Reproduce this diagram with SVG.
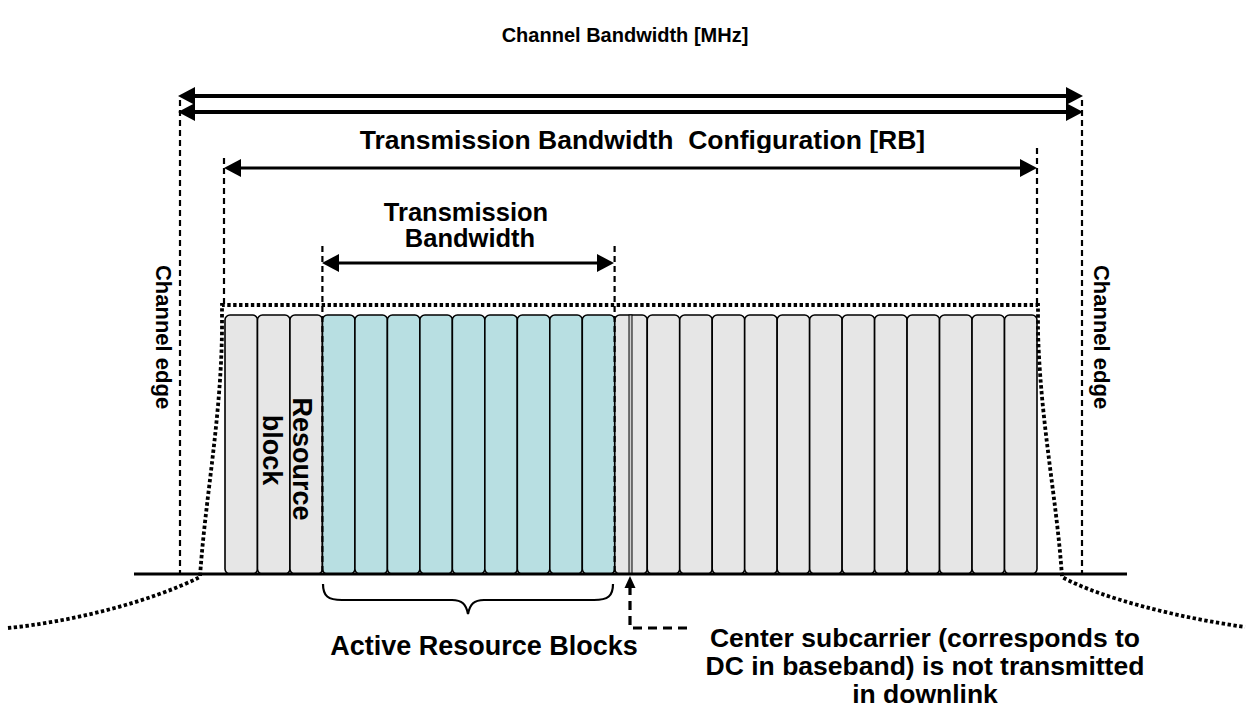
<svg xmlns="http://www.w3.org/2000/svg" width="1248" height="710" viewBox="0 0 1248 710">
<style>
  .t { font-family: "Liberation Sans", Arial, sans-serif; font-weight: bold; fill: #000; }
  .rb { fill: #e6e6e6; stroke: #000; stroke-width: 1.6; }
  .rb.act { fill: #b8dfe2; }
  .dash { fill: none; stroke: #000; stroke-width: 2.2; stroke-dasharray: 6 4; }
  .dots { fill: none; stroke: #000; stroke-width: 3.8; stroke-dasharray: 3.4 2.5; }
  .arr { fill: none; stroke: #000; }
</style>
<defs>
  <marker id="ah" viewBox="0 -9 17 18" refX="0" refY="0" markerWidth="17" markerHeight="18" markerUnits="userSpaceOnUse" orient="auto-start-reverse">
    <path d="M0,-9 L17,0 L0,9 Z" fill="#000"/>
  </marker>
  <clipPath id="tbcClip"><rect x="0" y="0" width="1248" height="153"/></clipPath>
</defs>
<rect width="1248" height="710" fill="#fff"/>

<g id="title"><text class="t" x="625" y="42" font-size="20" text-anchor="middle">Channel Bandwidth [MHz]</text></g>

<g id="resource-blocks">
  <rect id="rb0" class="rb" x="225" y="315" width="32.48" height="259" rx="5"/>
  <rect id="rb1" class="rb" x="257.48" y="315" width="32.48" height="259" rx="5"/>
  <rect id="rb2" class="rb" x="289.96" y="315" width="32.48" height="259" rx="5"/>
  <rect id="rb3" class="rb act" x="322.44" y="315" width="32.48" height="259" rx="5"/>
  <rect id="rb4" class="rb act" x="354.92" y="315" width="32.48" height="259" rx="5"/>
  <rect id="rb5" class="rb act" x="387.40" y="315" width="32.48" height="259" rx="5"/>
  <rect id="rb6" class="rb act" x="419.88" y="315" width="32.48" height="259" rx="5"/>
  <rect id="rb7" class="rb act" x="452.36" y="315" width="32.48" height="259" rx="5"/>
  <rect id="rb8" class="rb act" x="484.84" y="315" width="32.48" height="259" rx="5"/>
  <rect id="rb9" class="rb act" x="517.32" y="315" width="32.48" height="259" rx="5"/>
  <rect id="rb10" class="rb act" x="549.80" y="315" width="32.48" height="259" rx="5"/>
  <rect id="rb11" class="rb act" x="582.28" y="315" width="32.48" height="259" rx="5"/>
  <rect id="rb12" class="rb" x="614.76" y="315" width="32.48" height="259" rx="5"/>
  <rect id="rb13" class="rb" x="647.24" y="315" width="32.48" height="259" rx="5"/>
  <rect id="rb14" class="rb" x="679.72" y="315" width="32.48" height="259" rx="5"/>
  <rect id="rb15" class="rb" x="712.20" y="315" width="32.48" height="259" rx="5"/>
  <rect id="rb16" class="rb" x="744.68" y="315" width="32.48" height="259" rx="5"/>
  <rect id="rb17" class="rb" x="777.16" y="315" width="32.48" height="259" rx="5"/>
  <rect id="rb18" class="rb" x="809.64" y="315" width="32.48" height="259" rx="5"/>
  <rect id="rb19" class="rb" x="842.12" y="315" width="32.48" height="259" rx="5"/>
  <rect id="rb20" class="rb" x="874.60" y="315" width="32.48" height="259" rx="5"/>
  <rect id="rb21" class="rb" x="907.08" y="315" width="32.48" height="259" rx="5"/>
  <rect id="rb22" class="rb" x="939.56" y="315" width="32.48" height="259" rx="5"/>
  <rect id="rb23" class="rb" x="972.04" y="315" width="32.48" height="259" rx="5"/>
  <rect id="rb24" class="rb" x="1004.52" y="315" width="32.48" height="259" rx="5"/>
</g>

<g id="dc-subcarrier">
  <rect x="629" y="315" width="3" height="259" fill="#cfcfcf" stroke="#000" stroke-width="1"/>
</g>

<g id="spectrum-mask">
  <path class="dots" d="M8,628 C70,622 150,602 200,577 C205,500 221,420 222,330 L222,305 L1038,305 L1038,330 C1040,420 1057,500 1062,577 C1100,598 1180,618 1245,627"/>
</g>

<g id="connectors">
  <line x1="134" y1="574" x2="1127" y2="574" stroke="#000" stroke-width="3"/>
  <line class="dash" x1="180" y1="100" x2="180" y2="574"/>
  <line class="dash" x1="1082" y1="100" x2="1082" y2="574"/>
  <line class="dash" x1="224" y1="158" x2="224" y2="305"/>
  <line class="dash" x1="1037" y1="148" x2="1037" y2="305"/>
  <line class="dash" x1="322.4" y1="246" x2="322.4" y2="574"/>
  <line class="dash" x1="614.6" y1="246" x2="614.6" y2="574"/>
  <line class="arr" x1="195" y1="96" x2="1066" y2="96" stroke-width="4" marker-start="url(#ah)" marker-end="url(#ah)"/>
  <line class="arr" x1="195" y1="112" x2="1066" y2="112" stroke-width="4" marker-start="url(#ah)" marker-end="url(#ah)"/>
  <line class="arr" x1="241" y1="168" x2="1020" y2="168" stroke-width="3.2" marker-start="url(#ah)" marker-end="url(#ah)"/>
  <line class="arr" x1="339" y1="263" x2="597" y2="263" stroke-width="3.2" marker-start="url(#ah)" marker-end="url(#ah)"/>
  <path class="arr" stroke-width="2.2" d="M323,584 C323,596 328,600 342,600 L452,600 C462,600 466,604 468,614 C470,604 474,600 484,600 L594,600 C608,600 613,596 613,584"/>
  <path fill="none" stroke="#000" stroke-width="3.2" stroke-dasharray="9 6" d="M630,586 L630,628 L692,628"/>
  <path d="M630,576 L624.5,588 L635.5,588 Z" fill="#000"/>
</g>

<g id="label-tbc"><text class="t" x="642.5" y="149" font-size="26.5" text-anchor="middle" clip-path="url(#tbcClip)" xml:space="preserve">Transmission Bandwidth  Configuration [RB]</text></g>
<g id="label-tb">
  <text class="t" x="466" y="221" font-size="25.5" text-anchor="middle">Transmission</text>
  <text class="t" x="470" y="247" font-size="25.5" text-anchor="middle">Bandwidth</text>
</g>
<g id="label-edge-left"><text class="t" font-size="22" text-anchor="middle" transform="translate(156,337) rotate(90)">Channel edge</text></g>
<g id="label-edge-right"><text class="t" font-size="22" text-anchor="middle" transform="translate(1094,337) rotate(90)">Channel edge</text></g>
<g id="label-rb">
  <text class="t" font-size="27" text-anchor="middle" transform="translate(293,459) rotate(90)">Resource</text>
  <text class="t" font-size="27" text-anchor="middle" transform="translate(263,450) rotate(90)">block</text>
</g>
<g id="label-active"><text class="t" x="484" y="655" font-size="27" text-anchor="middle">Active Resource Blocks</text></g>
<g id="label-dc">
  <text class="t" x="925" y="647" font-size="26.5" text-anchor="middle">Center subcarrier (corresponds to</text>
  <text class="t" x="925" y="675" font-size="26.5" text-anchor="middle">DC in baseband) is not transmitted</text>
  <text class="t" x="925" y="703" font-size="26.5" text-anchor="middle">in downlink</text>
</g>
</svg>
